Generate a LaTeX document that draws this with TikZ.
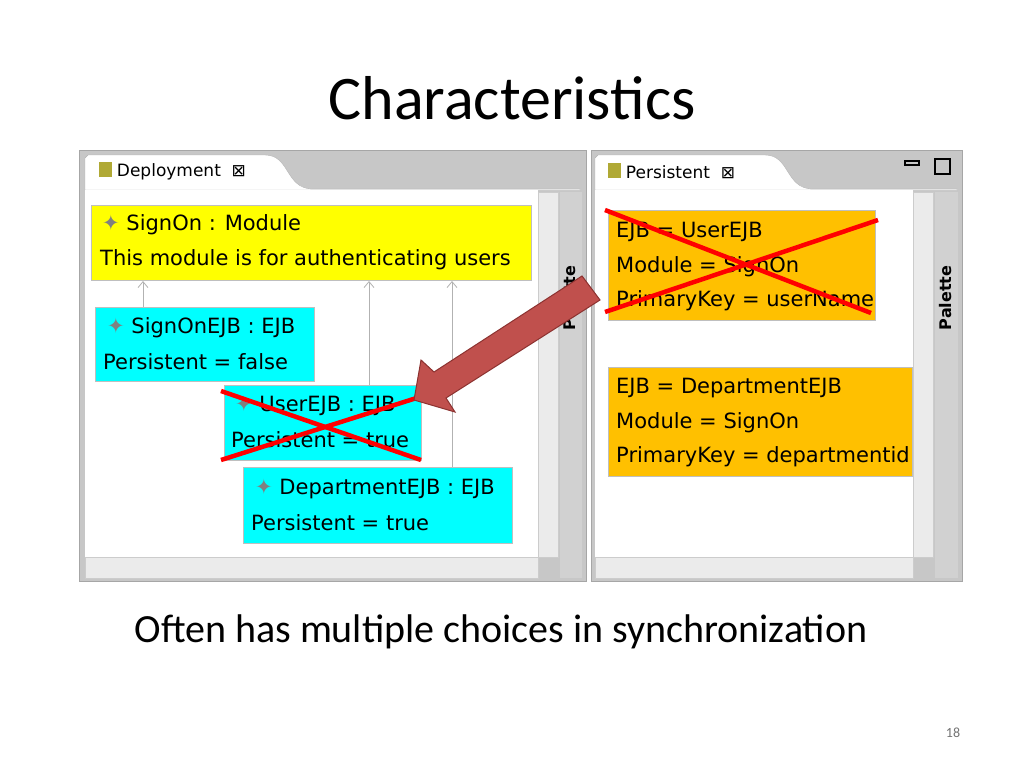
\documentclass[tikz,border=0pt]{standalone}
\usepackage{fontspec}
\usetikzlibrary{arrows.meta}
\setmainfont{Carlito}
\newfontfamily\uifont{DejaVu Sans}
\definecolor{cy}{RGB}{0,255,255}
\definecolor{ye}{RGB}{255,255,0}
\definecolor{or}{RGB}{255,192,0}
\begin{document}
\begin{tikzpicture}[x=1pt,y=-1pt,
  ui/.style={font=\uifont\fontsize{21}{23}\selectfont,anchor=west,inner sep=0pt},
  ybox/.style={fill=ye,draw=black!25},
  cbox/.style={fill=cy,draw=black!25},
  obox/.style={fill=or,draw=black!25},
  rel/.style={draw=black!30,line width=0.8pt,-{Straight Barb[length=6pt,width=10pt]}},
  cross/.style={draw=red,line width=4.5pt},
  frame/.style={fill=black!22,draw=black!35},
  sbar/.style={fill=black!8,draw=black!20}]
\useasboundingbox (0,0) rectangle (1024,768);
\node[font=\fontsize{62}{70}\selectfont] (title) at (512,98) {Characteristics};
% left panel
\path[frame] (79,150) rectangle (586,581);
\path[fill=white,draw=black!30] (88,155) -- (265,155) .. controls (290,155) and (285,188) .. (312,189) -- (580,189) -- (580,190) -- (85,190) -- (85,158) -- cycle;
\path[fill=white] (85,190) rectangle (538,557);
\path[sbar] (538,192) rectangle (558,557);
\path[sbar] (85,557) rectangle (538,578);
\path[fill=black!18] (560,192) rectangle (582,578);
\node[font=\uifont\bfseries\fontsize{16}{17}\selectfont,rotate=90] (pal1) at (570,298) {Palette};
\node[font=\uifont\fontsize{17}{18}\selectfont,anchor=west] (tab1) at (95,171) {\textcolor{olive!70}{\rule{13pt}{15pt}}\ Deployment\ \ ⊠};
% left nodes
\path[ybox] (91,205) rectangle (531,280);
\node[ui] (m1) at (102,225) {{\color{gray}✦} SignOn : Module};
\node[ui] (m2) at (100,260) {This module is for authenticating users};
\path[cbox] (95,307) rectangle (314,381);
\node[ui] (e1) at (107,328) {{\color{gray}✦} SignOnEJB : EJB};
\node[ui] (e1b) at (103,362) {Persistent = false};
\path[cbox] (224,385) rectangle (421,460);
\node[ui] (u1) at (235,406) {{\color{gray}✦} UserEJB : EJB};
\node[ui] (u1b) at (231,440) {Persistent = true};
\path[cbox] (243,467) rectangle (512,543);
\node[ui] (d1) at (255,489) {{\color{gray}✦} DepartmentEJB : EJB};
\node[ui] (d1b) at (251,523) {Persistent = true};
\coordinate (a1) at (143,281); \coordinate (b1) at (143,307);
\coordinate (a2) at (369,281); \coordinate (b2) at (369,385);
\coordinate (a3) at (452,281); \coordinate (b3) at (452,467);
\draw[rel] (b1) -- (a1); \draw[rel] (b2) -- (a2); \draw[rel] (b3) -- (a3);
\draw[cross] (221,391) -- (421,460); \draw[cross] (221,460) -- (426,395);
% right panel
\path[frame] (591,150) rectangle (962,581);
\path[fill=white,draw=black!30] (598,155) -- (765,155) .. controls (790,155) and (785,188) .. (812,189) -- (957,189) -- (957,190) -- (595,190) -- (595,158) -- cycle;
\path[fill=white] (595,190) rectangle (913,557);
\path[sbar] (913,192) rectangle (933,557);
\path[sbar] (595,557) rectangle (913,578);
\path[fill=black!18] (935,192) rectangle (958,578);
\node[font=\uifont\bfseries\fontsize{16}{17}\selectfont,rotate=90] (pal2) at (946,298) {Palette};
\node[font=\uifont\fontsize{17}{18}\selectfont,anchor=west] (tab2) at (604,171) {\textcolor{olive!70}{\rule{13pt}{15pt}}\ Persistent\ \ ⊠};
\draw[line width=1.5pt] (905,161) rectangle (919,165);
\draw[line width=1.5pt] (935,159) rectangle (950,174);
\path[obox] (608,210) rectangle (875,320);
\node[ui] (p1) at (616,232) {EJB = UserEJB};
\node[ui] (p2) at (616,267) {Module = SignOn};
\node[ui] (p3) at (616,301) {PrimaryKey = userName};
\path[obox] (608,367) rectangle (912,476);
\node[ui] (q1) at (616,388) {EJB = DepartmentEJB};
\node[ui] (q2) at (616,423) {Module = SignOn};
\node[ui] (q3) at (616,457) {PrimaryKey = departmentid};
\draw[cross] (605,210) -- (871,313); \draw[cross] (605,312) -- (878,220);
% big arrow
\path[fill={rgb,255:red,192;green,80;blue,77},draw={rgb,255:red,140;green,50;blue,48},line width=1pt]
 (414,400) -- (421,360) -- (434,372) -- (582,276) -- (600,300) -- (446,398) -- (455,412) -- cycle;
\node[font=\fontsize{40}{46}\selectfont] (sub) at (501,632) {Often has multiple choices in synchronization};
\node[font=\fontsize{14}{16}\selectfont,text=black!55] (pg) at (953,733) {18};
\end{tikzpicture}
\end{document}
